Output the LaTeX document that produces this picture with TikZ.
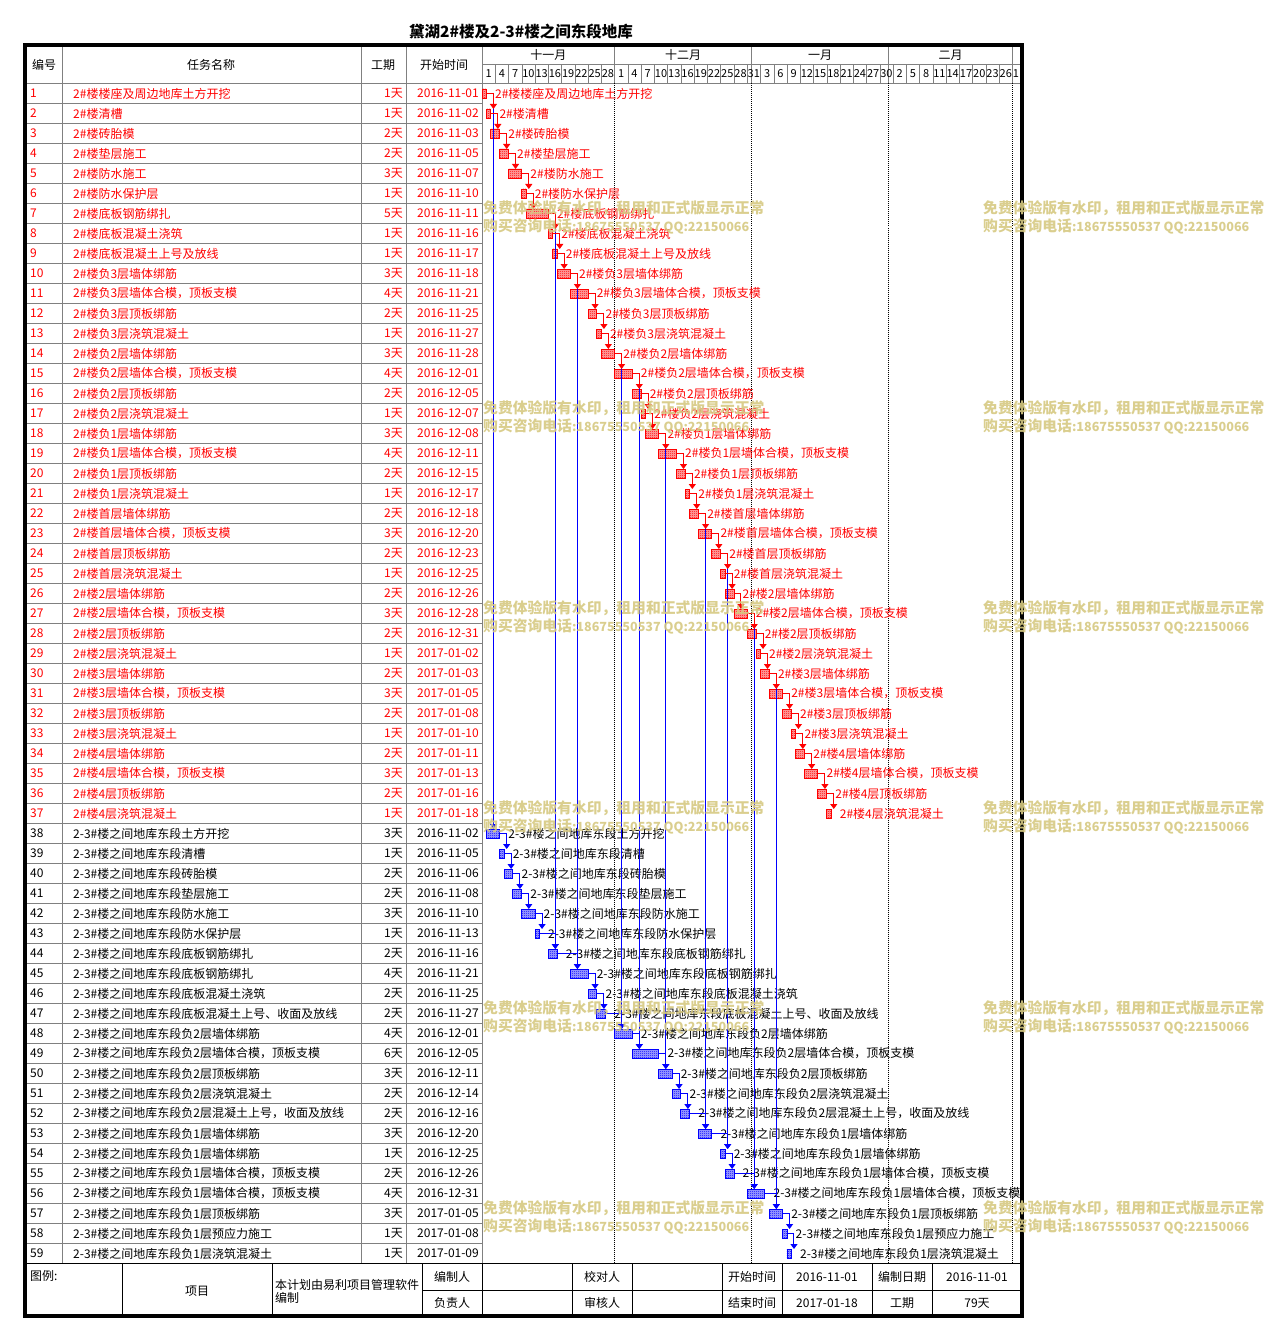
\documentclass[tikz,border=0pt]{standalone}
\usepackage{fontspec}
\setmainfont{Noto Sans CJK SC}
\usetikzlibrary{arrows.meta}
\usetikzlibrary{patterns}
\definecolor{wmark}{RGB}{214,201,130}
\definecolor{gridgray}{RGB}{128,128,128}
\pgfdeclarepatternformonly{finecheck}{\pgfpointorigin}{\pgfqpoint{2pt}{2pt}}{\pgfqpoint{2pt}{2pt}}%
{\pgfpathrectangle{\pgfpointorigin}{\pgfqpoint{1pt}{1pt}}%
 \pgfpathrectangle{\pgfqpoint{1pt}{1pt}}{\pgfqpoint{1pt}{1pt}}\pgfusepath{fill}}

\begin{document}
\begin{tikzpicture}[x=1pt,y=-1pt,>={Triangle[width=7pt,length=5pt]}]

\tikzset{txt/.style={font=\fontsize{12}{14}\selectfont,inner sep=0pt}}
\tikzset{day/.style={font=\fontsize{11}{13}\selectfont,inner sep=0pt}}
\tikzset{bar/.style={draw=#1,preaction={fill=#1!35},pattern=finecheck,pattern color=#1,line width=0.9pt,
  minimum height=9pt,inner sep=0pt,outer sep=0pt,anchor=west}}
\tikzset{dep/.style={draw=#1,line width=1pt,->}}
\tikzset{wm/.style={font=\bfseries\fontsize{14.8}{17}\selectfont,text=wmark,text opacity=0.9,
  anchor=west,inner sep=0pt}}

\useasboundingbox (0,0) rectangle (1266,1340);

%title
\node[font=\bfseries\fontsize{15.5}{17}\selectfont] (title) at (521,32) {黛湖2\#楼及2-3\#楼之间东段地库};

%table grid
\foreach \k in {1,...,58} \draw[gridgray] (25,{83.5+20*\k}) -- (482,{83.5+20*\k});
\draw[gridgray] (25,83.5) -- (1022,83.5);
\draw[gridgray] (482,64.5) -- (1022,64.5);
\foreach \xx in {62,361,406,482} \draw[gridgray] (\xx,45) -- (\xx,1263.5);

%header
\node[txt] (hnum) at (44,65) {编号};
\node[txt] (hname) at (211,65) {任务名称};
\node[txt] (hdur) at (383,65) {工期};
\node[txt] (hstart) at (444,65) {开始时间};

%months
\foreach \dd in {30,61,92,120} \draw[gridgray] ({482+4.42*\dd},45) -- ({482+4.42*\dd},83.5);
\node[txt] (nov) at ({482+4.42*15},55) {十一月};
\node[txt] (dec) at ({482+4.42*45.5},55) {十二月};
\node[txt] (jan) at ({482+4.42*76.5},55) {一月};
\node[txt] (feb) at ({482+4.42*106},55) {二月};

%days
\foreach \k in {1,...,40} \draw[gridgray] ({482+13.26*\k},64.5) -- ({482+13.26*\k},83.5);
\foreach \lab [count=\k from 0] in {1,4,7,10,13,16,19,22,25,28,1,4,7,10,13,16,19,22,25,28,31,
  3,6,9,12,15,18,21,24,27,30,2,5,8,11,14,17,20,23,26}
  \node[day] (d\k) at ({482+13.26*\k+6.63},74) {\lab};
\node[day] (d40) at (1016,74) {1};

%month lines
\foreach \dd in {30,61,92,120} \draw[dash pattern=on 1pt off 1pt] ({482+4.42*\dd},83.5) -- ({482+4.42*\dd},1263.5);

%tasks
\foreach \i/\nm/\dur/\dat/\st/\len in {
1/2\#楼楼座及周边地库土方开挖/1天/2016-11-01/0/1,
2/2\#楼清槽/1天/2016-11-02/1/1,
3/2\#楼砖胎模/2天/2016-11-03/2/2,
4/2\#楼垫层施工/2天/2016-11-05/4/2,
5/2\#楼防水施工/3天/2016-11-07/6/3,
6/2\#楼防水保护层/1天/2016-11-10/9/1,
7/2\#楼底板钢筋绑扎/5天/2016-11-11/10/5,
8/2\#楼底板混凝土浇筑/1天/2016-11-16/15/1,
9/2\#楼底板混凝土上号及放线/1天/2016-11-17/16/1,
10/2\#楼负3层墙体绑筋/3天/2016-11-18/17/3,
11/2\#楼负3层墙体合模，顶板支模/4天/2016-11-21/20/4,
12/2\#楼负3层顶板绑筋/2天/2016-11-25/24/2,
13/2\#楼负3层浇筑混凝土/1天/2016-11-27/26/1,
14/2\#楼负2层墙体绑筋/3天/2016-11-28/27/3,
15/2\#楼负2层墙体合模，顶板支模/4天/2016-12-01/30/4,
16/2\#楼负2层顶板绑筋/2天/2016-12-05/34/2,
17/2\#楼负2层浇筑混凝土/1天/2016-12-07/36/1,
18/2\#楼负1层墙体绑筋/3天/2016-12-08/37/3,
19/2\#楼负1层墙体合模，顶板支模/4天/2016-12-11/40/4,
20/2\#楼负1层顶板绑筋/2天/2016-12-15/44/2,
21/2\#楼负1层浇筑混凝土/1天/2016-12-17/46/1,
22/2\#楼首层墙体绑筋/2天/2016-12-18/47/2,
23/2\#楼首层墙体合模，顶板支模/3天/2016-12-20/49/3,
24/2\#楼首层顶板绑筋/2天/2016-12-23/52/2,
25/2\#楼首层浇筑混凝土/1天/2016-12-25/54/1,
26/2\#楼2层墙体绑筋/2天/2016-12-26/55/2,
27/2\#楼2层墙体合模，顶板支模/3天/2016-12-28/57/3,
28/2\#楼2层顶板绑筋/2天/2016-12-31/60/2,
29/2\#楼2层浇筑混凝土/1天/2017-01-02/62/1,
30/2\#楼3层墙体绑筋/2天/2017-01-03/63/2,
31/2\#楼3层墙体合模，顶板支模/3天/2017-01-05/65/3,
32/2\#楼3层顶板绑筋/2天/2017-01-08/68/2,
33/2\#楼3层浇筑混凝土/1天/2017-01-10/70/1,
34/2\#楼4层墙体绑筋/2天/2017-01-11/71/2,
35/2\#楼4层墙体合模，顶板支模/3天/2017-01-13/73/3,
36/2\#楼4层顶板绑筋/2天/2017-01-16/76/2,
37/2\#楼4层浇筑混凝土/1天/2017-01-18/78/1,
38/2-3\#楼之间地库东段土方开挖/3天/2016-11-02/1/3,
39/2-3\#楼之间地库东段清槽/1天/2016-11-05/4/1,
40/2-3\#楼之间地库东段砖胎模/2天/2016-11-06/5/2,
41/2-3\#楼之间地库东段垫层施工/2天/2016-11-08/7/2,
42/2-3\#楼之间地库东段防水施工/3天/2016-11-10/9/3,
43/2-3\#楼之间地库东段防水保护层/1天/2016-11-13/12/1,
44/2-3\#楼之间地库东段底板钢筋绑扎/2天/2016-11-16/15/2,
45/2-3\#楼之间地库东段底板钢筋绑扎/4天/2016-11-21/20/4,
46/2-3\#楼之间地库东段底板混凝土浇筑/2天/2016-11-25/24/2,
47/2-3\#楼之间地库东段底板混凝土上号、收面及放线/2天/2016-11-27/26/2,
48/2-3\#楼之间地库东段负2层墙体绑筋/4天/2016-12-01/30/4,
49/2-3\#楼之间地库东段负2层墙体合模，顶板支模/6天/2016-12-05/34/6,
50/2-3\#楼之间地库东段负2层顶板绑筋/3天/2016-12-11/40/3,
51/2-3\#楼之间地库东段负2层浇筑混凝土/2天/2016-12-14/43/2,
52/2-3\#楼之间地库东段负2层混凝土上号，收面及放线/2天/2016-12-16/45/2,
53/2-3\#楼之间地库东段负1层墙体绑筋/3天/2016-12-20/49/3,
54/2-3\#楼之间地库东段负1层墙体绑筋/1天/2016-12-25/54/1,
55/2-3\#楼之间地库东段负1层墙体合模，顶板支模/2天/2016-12-26/55/2,
56/2-3\#楼之间地库东段负1层墙体合模，顶板支模/4天/2016-12-31/60/4,
57/2-3\#楼之间地库东段负1层顶板绑筋/3天/2017-01-05/65/3,
58/2-3\#楼之间地库东段负1层预应力施工/1天/2017-01-08/68/1,
59/2-3\#楼之间地库东段负1层浇筑混凝土/1天/2017-01-09/69/1}
{
  \ifnum\i<38 \def\tc{red}\def\bc{red}\else\def\tc{black}\def\bc{blue}\fi
  \node[txt,text=\tc,anchor=west] (no\i) at (30,{73.5+20*\i}) {\i};
  \node[txt,text=\tc,anchor=west] (nm\i) at (73,{73.5+20*\i}) {\nm};
  \node[txt,text=\tc,anchor=east] (du\i) at (403,{73.5+20*\i}) {\dur};
  \node[txt,text=\tc,anchor=east] (dt\i) at (479,{73.5+20*\i}) {\dat};
  \node[bar=\bc,minimum width=\len*4.42pt] (b\i) at ({482+4.42*\st},{73.5+20*\i}) {};
  \node[txt,text=\tc,anchor=west] (lb\i) at ([xshift=8.5pt]b\i.east) {\nm};
}

%links
\foreach \p/\s in {1/38,7/44,10/45,14/48,15/49,18/50,22/53,24/54,27/56,30/57}
  \draw[dep=blue] (b\p.east) -| ([xshift=7pt]b\s.north west);
\foreach \p [evaluate=\p as \s using int(\p+1)] in {38,...,58}
  \draw[dep=blue] (b\p.east) -| ([xshift=7pt]b\s.north west);
\foreach \p [evaluate=\p as \s using int(\p+1)] in {1,...,36}
  \draw[dep=red] (b\p.east) -| ([xshift=7pt]b\s.north west);

%footer
\draw (25,1263.5) -- (1022,1263.5);
\draw (422,1290.5) -- (1022,1290.5);
\foreach \xx in {122,272,422,482,572,632,722,782,872,932} \draw (\xx,1263.5) -- (\xx,1316);
\node[txt,anchor=west] (legend) at (30,1276) {图例:};
\node[txt] (item) at (197,1291) {项目};
\node[txt,anchor=west,align=left,font=\fontsize{12}{13}\selectfont] (soft) at (275,1291.5) {本计划由易利项目管理软件\\编制};
\node[txt] (maker) at (452,1277) {编制人};
\node[txt] (owner) at (452,1303) {负责人};
\node[txt] (check) at (602,1277) {校对人};
\node[txt] (audit) at (602,1303) {审核人};
\node[txt] (slab) at (752,1277) {开始时间};
\node[txt] (elab) at (752,1303) {结束时间};
\node[txt] (sval) at (827,1277) {2016-11-01};
\node[txt] (eval) at (827,1303) {2017-01-18};
\node[txt] (dlab) at (902,1277) {编制日期};
\node[txt] (tlab) at (902,1303) {工期};
\node[txt] (dval) at (977,1277) {2016-11-01};
\node[txt] (tval) at (977,1303) {79天};

%frame
\draw[line width=4pt] (25,45) rectangle (1022,1316);

%watermark
\foreach \yy in {0,200,...,1000} \foreach \xx in {483,983} {
  \node[wm] (wa\xx-\yy) at (\xx,{208+\yy}) {免费体验版有水印，租用和正式版显示正常};
  \node[wm] (wb\xx-\yy) at (\xx,{226+\yy}) {购买咨询电话{\fontsize{12.6}{15}\selectfont:18675550537 QQ:22150066}};
}

\end{tikzpicture}
\end{document}
